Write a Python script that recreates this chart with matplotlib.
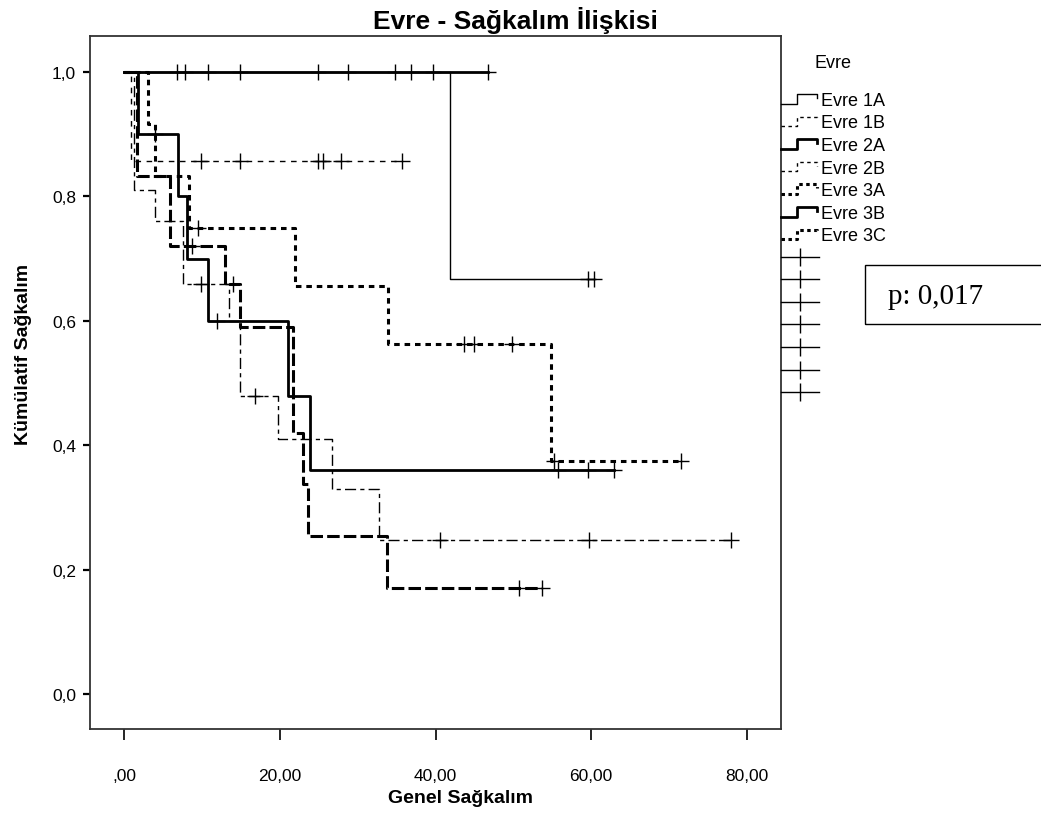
import numpy as np
import matplotlib
matplotlib.use('Agg')
import matplotlib.pyplot as plt
from matplotlib.lines import Line2D
from matplotlib.patches import Rectangle
from matplotlib.legend_handler import HandlerBase

plt.rcParams['font.family'] = ['Liberation Sans', 'DejaVu Sans']
plt.rcParams['lines.scale_dashes'] = False

# Kaplan-Meier steps (time, survival after that time)
groups = ['Evre 1A', 'Evre 1B', 'Evre 2A', 'Evre 2B', 'Evre 3A', 'Evre 3B', 'Evre 3C']

t_1a = [0, 41.8, 60.3]
s_1a = [1, 0.667, 0.667]
c_1a = [6.8, 14.9, 24.9, 34.8, 39.7, 59.6, 60.3]

t_1b = [0, 0.8, 35.7]
s_1b = [1, 0.857, 0.857]
c_1b = [9.8, 14.9, 24.9, 25.6, 27.8, 35.7]

t_2a = [0, 46.8]
s_2a = [1, 1]
c_2a = [7.8, 10.8, 28.8, 36.8, 46.8]

t_2b = [0, 1.2, 4.0, 7.6, 13.5, 14.9, 19.8, 26.7, 32.7, 78.0]
s_2b = [1, 0.81, 0.76, 0.66, 0.6, 0.48, 0.41, 0.33, 0.247, 0.247]
c_2b = [9.8, 16.8, 40.6, 59.7, 78.0]

t_3a = [0, 3.0, 4.0, 8.3, 22.0, 33.9, 54.8, 71.5]
s_3a = [1, 0.917, 0.833, 0.75, 0.656, 0.5625, 0.375, 0.375]
c_3a = [9.5, 43.6, 44.9, 49.8, 55.2, 71.5]

t_3b = [0, 1.8, 6.9, 8.0, 10.8, 21.0, 23.9, 62.9]
s_3b = [1, 0.9, 0.8, 0.7, 0.6, 0.48, 0.36, 0.36]
c_3b = [4.0, 11.9, 55.7, 59.6, 62.9]

t_3c = [0, 1.6, 5.9, 13.0, 14.9, 21.7, 23.0, 23.6, 33.8, 53.7]
s_3c = [1, 0.833, 0.72, 0.66, 0.59, 0.42, 0.337, 0.254, 0.17, 0.17]
c_3c = [8.7, 14.0, 50.7, 53.7]

times = [t_1a, t_1b, t_2a, t_2b, t_3a, t_3b, t_3c]
survs = [s_1a, s_1b, s_2a, s_2b, s_3a, s_3b, s_3c]
cens = [c_1a, c_1b, c_2a, c_2b, c_3a, c_3b, c_3c]

# line styles per group (linewidth, dashes)
styles = [
    (1.0, None),
    (1.0, (4, 4)),
    (2.0, None),
    (1.0, (8, 3, 3, 3)),
    (2.2, (4, 3.5)),
    (2.0, None),
    (2.2, (9, 3)),
]

fig = plt.figure(figsize=(10.41, 8.2), dpi=100)
ax = fig.add_axes([0.0865, 0.1098, 0.6638, 0.8451])

handles = []
for t, s, c, (lw, ds), g in zip(times, survs, cens, styles, groups):
    ln, = ax.step(t, s, where='post', color='black', lw=lw)
    if ds is not None:
        ln.set_dashes(ds)
    t_arr = np.array(t)
    idx = np.searchsorted(t_arr, c, side='right') - 1
    cy = np.array(s)[idx]
    ax.plot(c, cy, ls='none', marker='+', ms=12, mew=1.0, color='black')
    handles.append(ln)


class StepHandler(HandlerBase):
    def create_artists(self, legend, orig_handle, xdescent, ydescent,
                       width, height, fontsize, trans):
        x = np.array([0, 0.42, 0.42, 0.95, 0.95]) * width - xdescent
        y = np.array([0.1, 0.1, 0.85, 0.85, 0.55]) * height - ydescent
        ln = Line2D(x, y, color='black', lw=orig_handle.get_linewidth(),
                    ls=orig_handle.get_linestyle())
        if orig_handle.get_linestyle() not in ('-', 'solid'):
            ln.set_dashes((2.5, 2.5))
        ln.set_transform(trans)
        return [ln]


cens_handles = [Line2D([], [], color='black', lw=1.0, marker='|', ms=13, mew=1.0)
                for _ in groups]
leg = fig.legend(handles + cens_handles, groups + [''] * 7,
                 handler_map={h: StepHandler() for h in handles},
                 title='Evre', loc='upper left',
                 bbox_to_anchor=(781 / 1041, 1 - 55 / 820),
                 frameon=False, fontsize=13, title_fontsize=13,
                 handlelength=2.1, handletextpad=0.1, labelspacing=0.31,
                 borderpad=0, borderaxespad=0)
leg._legend_box.sep = 15

ax.set_xlim(-4.4, 84.4)
ax.set_ylim(-0.056, 1.058)
ax.set_xticks([0, 20, 40, 60, 80])
ax.set_xticklabels([',00', '20,00', '40,00', '60,00', '80,00'])
ax.set_yticks([0, 0.2, 0.4, 0.6, 0.8, 1.0])
ax.set_yticklabels(['0,0', '0,2', '0,4', '0,6', '0,8', '1,0'])
ax.tick_params(axis='x', length=8, width=1.2, labelsize=12.5, pad=20)
ax.tick_params(axis='y', length=5, width=1.6, labelsize=12.5, pad=5)
for lab in ax.get_xticklabels() + ax.get_yticklabels():
    lab.set_fontstretch('condensed')
for sp in ax.spines.values():
    sp.set_linewidth(1.3)
    sp.set_color('#333333')

fig.text(515 / 1041, 1 - 20 / 820, 'Evre - Sağkalım İlişkisi', fontsize=19,
         fontweight='bold', ha='center', va='center')
ax.set_xlabel('Genel Sağkalım', fontsize=14, fontweight='bold')
ax.xaxis.set_label_coords((460 - 90) / 691, -(790 - 730) / 693)
ax.set_ylabel('Kümülatif Sağkalım', fontsize=14, fontweight='bold')
ax.yaxis.set_label_coords(-(90 - 32) / 691, (730 - 354) / 693)

# p-value box added on the right side
fig.patches.append(Rectangle((865 / 1041, 1 - 325 / 820), 0.2, 59 / 820,
                             transform=fig.transFigure, fill=False,
                             edgecolor='black', lw=1.0))
fig.text(888 / 1041, 1 - 297 / 820, 'p: 0,017', fontsize=21,
         family='Liberation Serif', va='center', ha='left')

fig.savefig('out.png', dpi=100)
